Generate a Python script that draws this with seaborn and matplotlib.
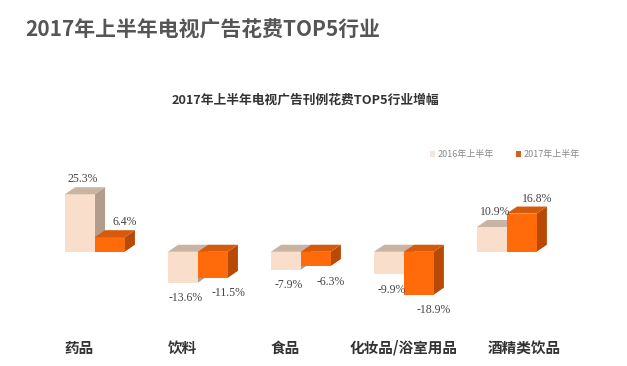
import pandas as pd
import numpy as np
import matplotlib
matplotlib.use('Agg')
import matplotlib.pyplot as plt
from matplotlib.patches import Polygon, Patch
import seaborn as sns

# data
categories = ['药品', '饮料', '食品', '化妆品/浴室用品', '酒精类饮品']
series_names = ['2016年上半年', '2017年上半年']
h1_2016 = [25.3, -13.6, -7.9, -9.9, 10.9]
h1_2017 = [6.4, -11.5, -6.3, -18.9, 16.8]

sns.set_style('white')
plt.rcParams['font.family'] = ['Noto Sans CJK SC', 'DejaVu Sans']

df = pd.DataFrame({
    'cat': categories * 2,
    'year': [series_names[0]] * 5 + [series_names[1]] * 5,
    'val': h1_2016 + h1_2017,
})

front = ['#F9DFCB', '#FF6A0A']
top = ['#C9B3A3', '#D65A0C']
side = ['#B39C8C', '#B94A05']

fig = plt.figure(figsize=(6.27, 3.66), dpi=100)
ax = fig.add_axes([0.0526, 0.1257, 0.887, 0.41])
sns.barplot(data=df, x='cat', y='val', hue='year', hue_order=series_names,
            palette=front, saturation=1, width=0.58, ax=ax, legend=False, linewidth=0)
ax.set_xlim(-0.6, 4.8)
ax.set_ylim(-30, 36)
ax.axis('off')

dx, dy = 0.1, 3.1
label_dx = [0.03, 0.15]   # label shift per series
vals = h1_2016 + h1_2017
for k, p in enumerate(ax.patches):
    s = 0 if k < len(categories) else 1
    z = 2 + s * 2
    p.set_zorder(z)
    x0 = p.get_x()
    x1 = x0 + p.get_width()
    y0 = min(p.get_y(), p.get_y() + p.get_height())
    y1 = max(p.get_y(), p.get_y() + p.get_height())
    ax.add_patch(Polygon([(x0, y1), (x1, y1), (x1 + dx, y1 + dy), (x0 + dx, y1 + dy)],
                         closed=True, facecolor=top[s], edgecolor='none', zorder=z))
    ax.add_patch(Polygon([(x1, y0), (x1, y1), (x1 + dx, y1 + dy), (x1 + dx, y0 + dy)],
                         closed=True, facecolor=side[s], edgecolor='none', zorder=z - 0.5))
    cx = (x0 + x1) / 2 + label_dx[s]
    if vals[k] >= 0:
        ax.text(cx, y1 + dy + 0.8, f'{vals[k]:.1f}%', ha='center', va='bottom',
                fontsize=8.5, family='Liberation Serif', color='#444444', zorder=6)
    else:
        ax.text(cx, y0 - 4.2, f'{vals[k]:.1f}%', ha='center', va='top',
                fontsize=8.5, family='Liberation Serif', color='#444444', zorder=6)

# category labels
label_shift = [-0.15, -0.15, -0.15, 0.0, 0.17]
for i, c in enumerate(categories):
    ax.text(i + label_shift[i], -42.3, c, ha='center', va='center', fontsize=10.5,
            fontweight='bold', color='#333333')

fig.text(0.04, 0.918, '2017年上半年电视广告花费TOP5行业', ha='left', va='center',
         fontsize=15, fontweight='bold', color='#555555')
fig.text(0.487, 0.727, '2017年上半年电视广告刊例花费TOP5行业增幅', ha='center', va='center',
         fontsize=9.2, fontweight='bold', color='#333333')

handles = [Patch(facecolor='#F3E6DE', edgecolor='none'), Patch(facecolor='#D2601E', edgecolor='none')]
fig.legend(handles, series_names, loc='center', bbox_to_anchor=(0.805, 0.577), ncol=2,
           frameon=False, fontsize=6.5, handlelength=0.6, handleheight=0.6,
           handletextpad=0.2, columnspacing=2.5, labelcolor='#888888')

plt.savefig('out.png', dpi=100)
plt.close()
